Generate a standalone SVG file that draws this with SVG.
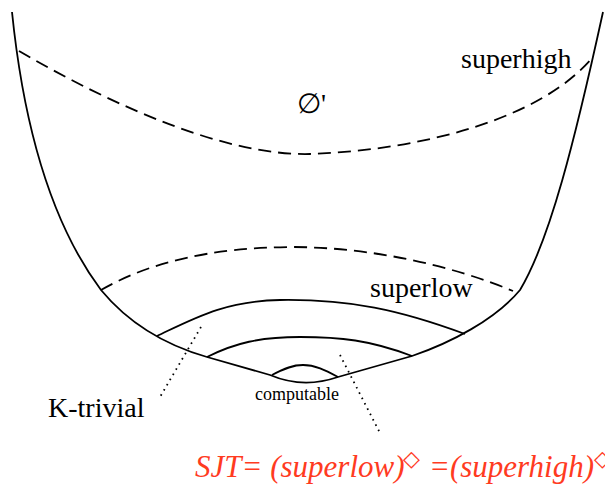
<svg xmlns="http://www.w3.org/2000/svg" width="605" height="484" viewBox="0 0 605 484">
<style>
.ln{fill:none;stroke:#000;stroke-width:1.8;stroke-linecap:butt}
.dash{fill:none;stroke:#000;stroke-width:1.8;stroke-dasharray:13 7}
.dot{fill:none;stroke:#000;stroke-width:1.8;stroke-dasharray:1.6 4.4}
.lbl{font-family:"Liberation Serif","Times New Roman",serif;fill:#000}
.red{font-family:"Liberation Serif","Times New Roman",serif;font-style:italic;font-size:31px;fill:#ff3b1f}
.dia{font-family:"DejaVu Sans",sans-serif;font-style:normal;font-size:22px;fill:#ff3b1f}
</style>
<rect width="605" height="484" fill="#fff"/>
<g id="connectors">
<path id="outer" class="ln" d="M12,12 C22,110 45,215 101,290 C130,325 165,345 207,357 L270,375 Q303,389 338,377 L412,356 C450,343 495,320 520,290 C550,240 575,140 603,12"/>
<path id="superhigh-line" class="dash" d="M19,51 C120,110 230,156 310,154 C420,150 540,120 593,57"/>
<path id="superlow-line" class="dash" d="M101,290 C150,262 210,248 290,247 C370,247 450,265 513,291"/>
<path id="ktrivial-arc" class="ln" d="M157,336 C195,318 225,301 280,300 C350,299 400,310 465,334"/>
<path id="sjt-arc" class="ln" d="M207,357 C235,343 260,337 300,337 C340,337 370,340 412,356"/>
<path id="computable-arc" class="ln" d="M272,375 C285,368 293,365 303,365 C315,365 325,370 338,377"/>
<path id="ktrivial-pointer" class="dot" d="M201,327 L160,397"/>
<path id="sjt-pointer" class="dot" d="M340,355 L381,435"/>
</g>
<g id="label-superhigh"><text class="lbl" x="461" y="68" font-size="28">superhigh</text></g>
<g id="label-emptyset"><text class="lbl" x="297" y="113" font-size="28">∅'</text></g>
<g id="label-superlow"><text class="lbl" x="370" y="297" font-size="28">superlow</text></g>
<g id="label-computable"><text class="lbl" x="255" y="400" font-size="18">computable</text></g>
<g id="label-ktrivial"><text class="lbl" x="48" y="417" font-size="28">K-trivial</text></g>
<g id="label-sjt">
<text class="red" x="195" y="477">SJT= (superlow)</text>
<text class="dia" x="403" y="466">◇</text>
<text class="red" x="429" y="477">=(superhigh)</text>
<text class="dia" x="594" y="466">◇</text>
</g>
</svg>
